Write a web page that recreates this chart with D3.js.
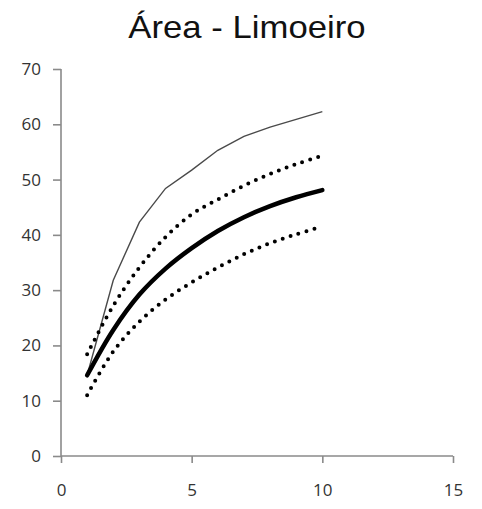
<!DOCTYPE html>
<html>
<head>
<meta charset="utf-8">
<script src="https://cdn.jsdelivr.net/npm/d3@7"></script>
<style>
  html, body { margin: 0; padding: 0; background: #fff; }
  svg { display: block; }
</style>
</head>
<body>
<svg id="chart" width="482" height="509"></svg>
<script>
// Sampling effort (x) and accumulated area curves
const samples = [1, 2, 3, 4, 5, 6, 7, 8, 9, 10];
const observed = [14.6, 31.8, 42.3, 48.4, 51.7, 55.3, 57.8, 59.5, 60.9, 62.3];
const estimate = [14.6, 22.8, 29.2, 33.9, 37.6, 40.7, 43.2, 45.2, 46.8, 48.1];
const upperBound = [18.4, 27.2, 34.1, 39.6, 43.7, 46.4, 48.9, 51.0, 52.8, 54.3];
const lowerBound = [11.0, 18.9, 24.3, 28.3, 31.4, 34.1, 36.5, 38.5, 40.1, 41.5];
const xTicks = [0, 5, 10, 15];
const yTicks = [0, 10, 20, 30, 40, 50, 60, 70];
const title = "Área - Limoeiro";

const svg = d3.select("#chart");
const plotLeft = 61, plotRight = 453, plotTop = 69, plotBottom = 456;

const x = d3.scaleLinear().domain([0, 15]).range([plotLeft, plotRight]);
const y = d3.scaleLinear().domain([0, 70]).range([plotBottom, plotTop]);

// Title
svg.append("text")
  .attr("transform", `translate(247,38) scale(1.12,1)`)
  .attr("text-anchor", "middle")
  .attr("font-family", "Liberation Sans, Arial, sans-serif")
  .attr("font-size", 31)
  .attr("fill", "#111")
  .text(title);

// Axes
const axisColor = "#8a8a8a";
const yAxis = svg.append("g")
  .attr("transform", `translate(${plotLeft},0)`)
  .call(d3.axisLeft(y).tickValues(yTicks).tickSize(8).tickPadding(12).tickFormat(d3.format("d")));
const xAxis = svg.append("g")
  .attr("transform", `translate(0,${plotBottom})`)
  .call(d3.axisBottom(x).tickValues(xTicks).tickSize(7).tickPadding(21).tickFormat(d3.format("d")));

[yAxis, xAxis].forEach(g => {
  g.select(".domain").attr("stroke", axisColor).attr("stroke-width", 1.6);
  g.selectAll(".tick line").attr("stroke", axisColor).attr("stroke-width", 1.6);
  g.selectAll(".tick text")
    .attr("font-family", "Open Sans, Liberation Sans, sans-serif")
    .attr("font-size", 17)
    .attr("fill", "#333");
});
// Axis lines end at the outer ticks
yAxis.select(".domain").attr("d", `M0,${y(70)}V${y(0)}`);
xAxis.select(".domain").attr("d", `M${x(0)},0H${x(15)}`);

const pts = vals => samples.map((s, i) => [s, vals[i]]);
const smooth = d3.line().x(d => x(d[0])).y(d => y(d[1])).curve(d3.curveCatmullRom.alpha(0.5));
const straight = d3.line().x(d => x(d[0])).y(d => y(d[1]));

// Observed accumulation (thin)
svg.append("path")
  .attr("d", straight(pts(observed)))
  .attr("fill", "none")
  .attr("stroke", "#4a4a4a")
  .attr("stroke-width", 1.4);

// Confidence bounds (round dots)
[upperBound, lowerBound].forEach(vals => {
  svg.append("path")
    .attr("d", smooth(pts(vals)))
    .attr("fill", "none")
    .attr("stroke", "#000")
    .attr("stroke-width", 4)
    .attr("stroke-linecap", "round")
    .attr("stroke-dasharray", "0 8.3");
});

// Estimated curve (thick)
svg.append("path")
  .attr("d", smooth(pts(estimate)))
  .attr("fill", "none")
  .attr("stroke", "#000")
  .attr("stroke-width", 4.5)
  .attr("stroke-linecap", "round")
  .attr("stroke-linejoin", "round");
</script>
</body>
</html>
